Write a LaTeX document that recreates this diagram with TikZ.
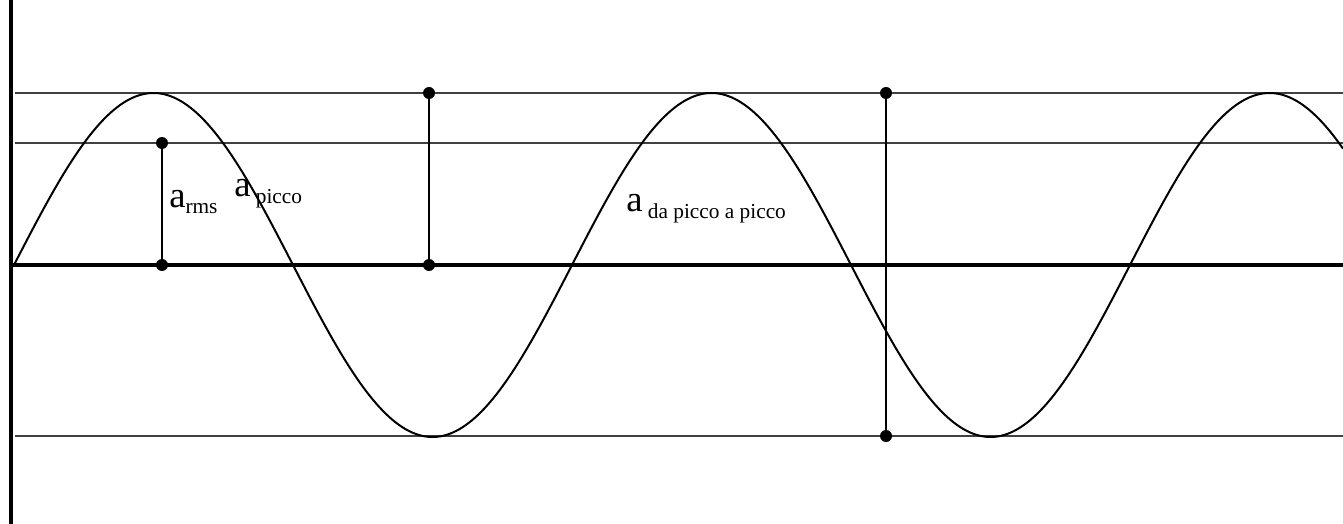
\documentclass[tikz,border=0pt]{standalone}
\usepackage{fontspec}
\setmainfont{Liberation Serif}
\newcommand\mainsz{\fontsize{27.5}{32}\selectfont}
\newcommand\subsz{\fontsize{16}{19}\selectfont}
\begin{document}
\begin{tikzpicture}[x=0.75pt,y=-0.75pt,
  guide/.style={line width=1.4pt, draw=black!75},
  axis/.style={line width=3pt, draw=black},
  wave/.style={line width=1.5pt, draw=black},
  meas/.style={line width=1.5pt, draw=black},
  dot/.style={circle, fill=black, inner sep=0pt, minimum size=9pt},
  lbl/.style={anchor=base west, inner sep=0pt, font=\mainsz}]
\useasboundingbox (0,0) rectangle (1343,524);
% guide lines
\draw[guide] (15,93) -- (1343,93);
\draw[guide] (15,143) -- (1343,143);
\draw[guide] (15,436) -- (1343,436);
% axes
\draw[axis] (11,0) -- (11,524);
\draw[axis] (10,265) -- (1343,265);
% sine wave
\draw[wave] plot[domain=14:1343, samples=500, smooth] (\x, {265-172*sin(((\x-14)/558)*360)});
% measurement markers
\node[dot] (r1) at (162,143) {};
\node[dot] (r0) at (162,265) {};
\node[dot] (p1) at (429,93) {};
\node[dot] (p0) at (429,265) {};
\node[dot] (q1) at (886,93) {};
\node[dot] (q0) at (886,436) {};
\draw[meas] (r1.center) -- (r0.center);
\draw[meas] (p1.center) -- (p0.center);
\draw[meas] (q1.center) -- (q0.center);
% labels
\node[lbl] (lrms) at (169,208) {a\raisebox{-4.5pt}{\subsz rms}};
\node[lbl] (lpk) at (234,197) {a\raisebox{-5pt}{\subsz\ picco}};
\node[lbl] (lpp) at (626,212) {a\raisebox{-5pt}{\subsz\ da picco a picco}};
\end{tikzpicture}
\end{document}
